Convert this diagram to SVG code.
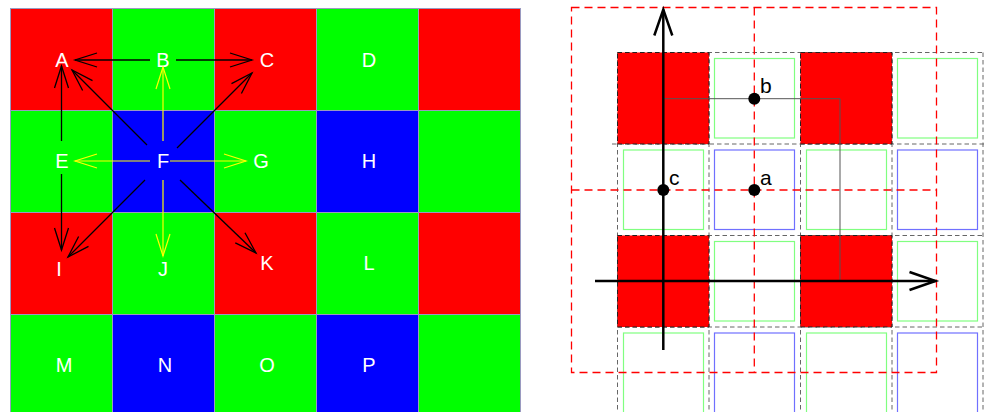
<svg xmlns="http://www.w3.org/2000/svg" width="987" height="412" viewBox="0 0 987 412">
<style>
.cell{stroke:#9a9ac0;stroke-width:1}
.r{fill:#ff0000}.g{fill:#00ff00}.b{fill:#0000ff}
.lbl{font-family:"Liberation Sans",Arial,sans-serif;font-size:20px;fill:#ffffff;text-anchor:middle}
.blk{stroke:#000;stroke-width:1.3;fill:none}
.yel{stroke:#ffff00;stroke-width:1.2;fill:none}
.gd{stroke:#666;stroke-width:1;stroke-dasharray:4.5,3;fill:none}
.rc{fill:#ff0000;stroke:#222;stroke-width:1;stroke-dasharray:4.5,3}
.ig{fill:none;stroke:#80ff80;stroke-width:1.2}
.ib{fill:none;stroke:#7070ff;stroke-width:1.2}
.rd{stroke:#ff0000;stroke-width:1.3;stroke-dasharray:8,5;fill:none}
.pt{font-family:"Liberation Sans",Arial,sans-serif;font-size:21px;fill:#000}
</style>
<defs>
<marker id="ah" markerUnits="userSpaceOnUse" markerWidth="30" markerHeight="20" refX="0" refY="0" orient="auto" overflow="visible"><path d="M-22,-7 L0,0 L-22,7" fill="none" stroke="#000" stroke-width="1.3"/></marker>
<marker id="ay" markerUnits="userSpaceOnUse" markerWidth="30" markerHeight="20" refX="0" refY="0" orient="auto" overflow="visible"><path d="M-22,-7 L0,0 L-22,7" fill="none" stroke="#ffff00" stroke-width="1.2"/></marker>
<marker id="ax" markerUnits="userSpaceOnUse" markerWidth="30" markerHeight="24" refX="0" refY="0" orient="auto" overflow="visible"><path d="M-26,-9 L0,0 L-26,9" fill="none" stroke="#000" stroke-width="2.5"/></marker>
</defs>

<g id="left-grid">
<g id="A"><rect class="cell r" x="10.5" y="8.5" width="102" height="102"/><text class="lbl" x="62" y="66.5">A</text></g>
<g id="B"><rect class="cell g" x="112.5" y="8.5" width="102" height="102"/><text class="lbl" x="163" y="66.5">B</text></g>
<g id="C"><rect class="cell r" x="214.5" y="8.5" width="102" height="102"/><text class="lbl" x="267" y="66.5">C</text></g>
<g id="D"><rect class="cell g" x="316.5" y="8.5" width="102" height="102"/><text class="lbl" x="369" y="66.5">D</text></g>
<g id="c04"><rect class="cell r" x="418.5" y="8.5" width="102" height="102"/></g>
<g id="E"><rect class="cell g" x="10.5" y="110.5" width="102" height="102"/><text class="lbl" x="62" y="168">E</text></g>
<g id="F"><rect class="cell b" x="112.5" y="110.5" width="102" height="102"/><text class="lbl" x="163" y="168">F</text></g>
<g id="G"><rect class="cell g" x="214.5" y="110.5" width="102" height="102"/><text class="lbl" x="261" y="168">G</text></g>
<g id="H"><rect class="cell b" x="316.5" y="110.5" width="102" height="102"/><text class="lbl" x="369" y="168">H</text></g>
<g id="c14"><rect class="cell g" x="418.5" y="110.5" width="102" height="102"/></g>
<g id="I"><rect class="cell r" x="10.5" y="212.5" width="102" height="102"/><text class="lbl" x="59" y="276">I</text></g>
<g id="J"><rect class="cell g" x="112.5" y="212.5" width="102" height="102"/><text class="lbl" x="163" y="276">J</text></g>
<g id="K"><rect class="cell r" x="214.5" y="212.5" width="102" height="102"/><text class="lbl" x="267" y="270">K</text></g>
<g id="L"><rect class="cell g" x="316.5" y="212.5" width="102" height="102"/><text class="lbl" x="369" y="270">L</text></g>
<g id="c24"><rect class="cell r" x="418.5" y="212.5" width="102" height="102"/></g>
<g id="M"><rect class="cell g" x="10.5" y="314.5" width="102" height="102"/><text class="lbl" x="64" y="372">M</text></g>
<g id="N"><rect class="cell b" x="112.5" y="314.5" width="102" height="102"/><text class="lbl" x="165" y="372">N</text></g>
<g id="O"><rect class="cell g" x="214.5" y="314.5" width="102" height="102"/><text class="lbl" x="267" y="372">O</text></g>
<g id="P"><rect class="cell b" x="316.5" y="314.5" width="102" height="102"/><text class="lbl" x="369" y="372">P</text></g>
<g id="c34"><rect class="cell g" x="418.5" y="314.5" width="102" height="102"/></g>
</g>

<g id="connectors">
<line class="blk" x1="150" y1="60" x2="75" y2="60" marker-end="url(#ah)"/>
<line class="blk" x1="176" y1="60" x2="252" y2="60" marker-end="url(#ah)"/>
<line class="blk" x1="61.5" y1="141" x2="61.5" y2="66" marker-end="url(#ah)"/>
<line class="blk" x1="61.5" y1="174" x2="61.5" y2="250" marker-end="url(#ah)"/>
<line class="blk" x1="147" y1="145" x2="72" y2="70" marker-end="url(#ah)"/>
<line class="blk" x1="177" y1="148" x2="252" y2="73" marker-end="url(#ah)"/>
<line class="blk" x1="145" y1="180" x2="68" y2="257" marker-end="url(#ah)"/>
<line class="blk" x1="180" y1="180" x2="256" y2="253" marker-end="url(#ah)"/>
<line class="yel" x1="163" y1="141" x2="163" y2="67" marker-end="url(#ay)"/>
<line class="yel" x1="150" y1="161" x2="75" y2="161" marker-end="url(#ay)"/>
<line class="yel" x1="170" y1="161" x2="246" y2="161" marker-end="url(#ay)"/>
<line class="yel" x1="163" y1="180" x2="163" y2="256" marker-end="url(#ay)"/>
</g>

<g id="right-panel">
<g id="gray-grid">
<line class="gd" x1="617.5" y1="52.5" x2="984" y2="52.5"/>
<line class="gd" x1="612" y1="144" x2="984" y2="144"/>
<line class="gd" x1="617.5" y1="235.5" x2="984" y2="235.5"/>
<line class="gd" x1="617.5" y1="327" x2="984" y2="327"/>
<line class="gd" x1="617.5" y1="52.5" x2="617.5" y2="412"/>
<line class="gd" x1="709" y1="52.5" x2="709" y2="412"/>
<line class="gd" x1="800.5" y1="52.5" x2="800.5" y2="412"/>
<line class="gd" x1="892" y1="52.5" x2="892" y2="412"/>
<line class="gd" x1="983" y1="52.5" x2="983" y2="412"/>
</g>
<g id="red-cells">
<rect class="rc" x="617.5" y="52.5" width="91.5" height="91.5"/>
<rect class="rc" x="800.5" y="52.5" width="91.5" height="91.5"/>
<rect class="rc" x="617.5" y="235.5" width="91.5" height="91.5"/>
<rect class="rc" x="800.5" y="235.5" width="91.5" height="91.5"/>
</g>
<g id="inner-cells">
<rect class="ig" x="714.5" y="58.5" width="80" height="79.5"/>
<rect class="ig" x="897.5" y="58.5" width="80" height="79.5"/>
<rect class="ig" x="623.5" y="150" width="80" height="79.5"/>
<rect class="ib" x="714.5" y="150" width="80" height="79.5"/>
<rect class="ig" x="806.5" y="150" width="80" height="79.5"/>
<rect class="ib" x="897.5" y="150" width="80" height="79.5"/>
<rect class="ig" x="714.5" y="241.5" width="80" height="79.5"/>
<rect class="ig" x="897.5" y="241.5" width="80" height="79.5"/>
<rect class="ig" x="623.5" y="333" width="80" height="90"/>
<rect class="ib" x="714.5" y="333" width="80" height="90"/>
<rect class="ig" x="806.5" y="333" width="80" height="90"/>
<rect class="ib" x="897.5" y="333" width="80" height="90"/>
</g>
<g id="red-dashed">
<rect class="rd" x="571.5" y="7.5" width="365" height="365"/>
<line class="rd" x1="754.3" y1="7.5" x2="754.3" y2="372.5"/>
<line class="rd" x1="571.5" y1="190" x2="936.5" y2="190"/>
</g>
<path d="M663.3,98.7 H840 V281" fill="none" stroke="#555" stroke-width="1"/>
<g id="axes">
<line x1="663.3" y1="350" x2="663.3" y2="9.5" stroke="#000" stroke-width="2.5" marker-end="url(#ax)"/>
<line x1="595" y1="281" x2="935.5" y2="281" stroke="#000" stroke-width="2.5" marker-end="url(#ax)"/>
</g>
<g id="pt-b"><circle cx="754.3" cy="98.7" r="6" fill="#000"/><text class="pt" x="760" y="93">b</text></g>
<g id="pt-c"><circle cx="663.3" cy="190" r="6" fill="#000"/><text class="pt" x="669" y="184.5">c</text></g>
<g id="pt-a"><circle cx="754.3" cy="190" r="6" fill="#000"/><text class="pt" x="760" y="184.5">a</text></g>
</g>
</svg>
